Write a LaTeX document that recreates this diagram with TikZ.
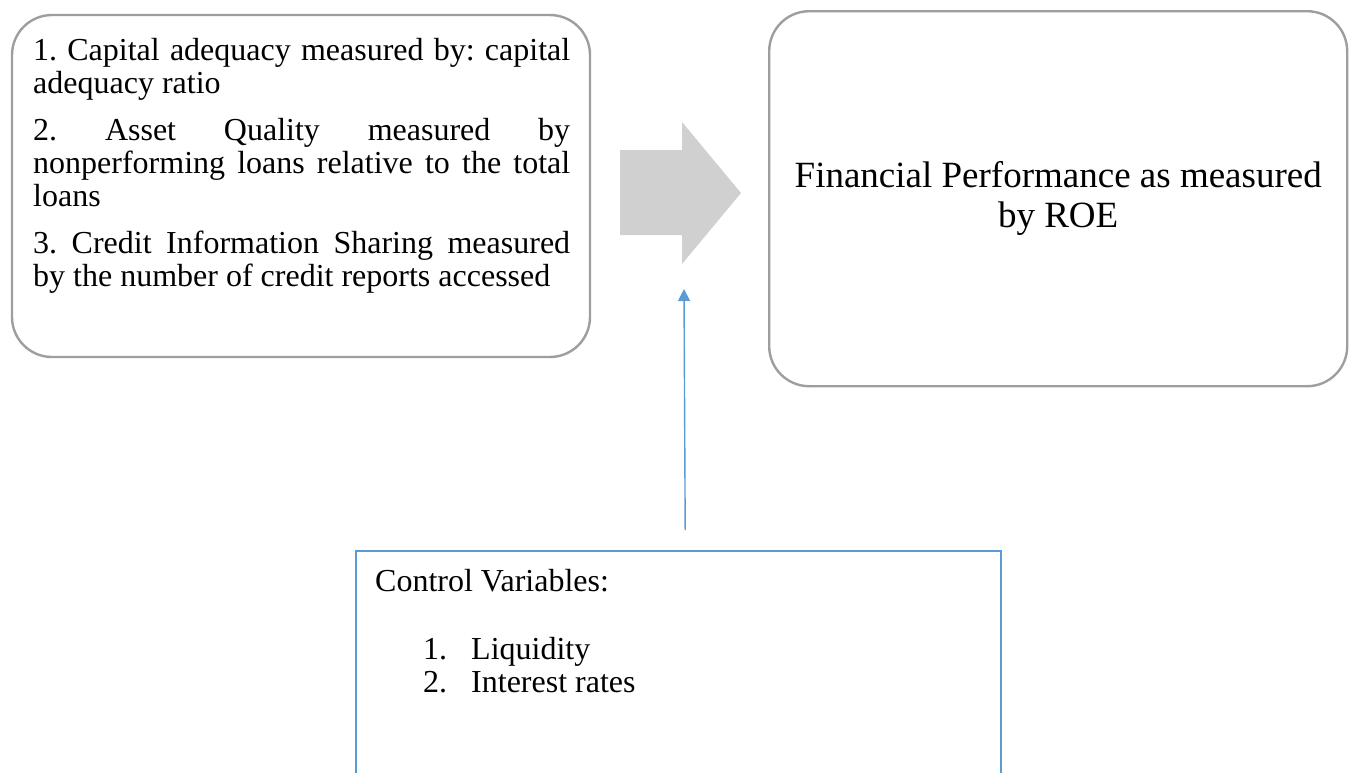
\documentclass[tikz,border=0pt]{standalone}
\usepackage{fontspec}
\setmainfont{Liberation Serif}
\usetikzlibrary{arrows.meta}
\definecolor{boxgray}{HTML}{9E9E9E}
\definecolor{arrowgray}{HTML}{D0D0D0}
\definecolor{ctrlblue}{HTML}{5B9BD5}
\frenchspacing
\begin{document}
\begin{tikzpicture}[x=1pt,y=-1pt,
  roundbox/.style={draw=boxgray,line width=2.4pt,rounded corners=40pt,fill=white},
  ctrlbox/.style={draw=ctrlblue,line width=2.4pt},
  ctrllink/.style={draw=ctrlblue,line width=1.4pt,-{Triangle[length=12pt,width=12pt]}},
  bigarrow/.style={fill=arrowgray,draw=none},
  bodytext/.style={font=\fontsize{32}{33}\selectfont,inner sep=0pt}]
\useasboundingbox (0,0) rectangle (1352,772);
\clip (0,0) rectangle (1352,772);

% input variables
\draw[roundbox] (12,15) rectangle (590,357);
\node[bodytext,anchor=north west,text width=537pt,align=justify] (inputs) at (33,38)
  {\hyphenpenalty=10000\setlength{\parskip}{14pt}%
   1. Capital adequacy measured by: capital\linebreak adequacy ratio\par
   2. Asset Quality measured by\linebreak nonperforming loans relative to the total\linebreak loans\par
   3. Credit Information Sharing measured\linebreak by the number of credit reports accessed\par};

% outcome
\node[roundbox,minimum width=578pt,minimum height=375pt,anchor=north west,
      font=\fontsize{37}{40}\selectfont,align=center] (outcome) at (768,10)
  {Financial Performance as measured\\ by ROE};

% block arrow from inputs to outcome
\fill[bigarrow] (620,150) -- (682,150) -- (682,122) -- (741,193)
  -- (682,264) -- (682,235) -- (620,235) -- cycle;

% control variables (box runs off the bottom edge)
\node[ctrlbox,minimum width=645pt,minimum height=260pt,anchor=north west] (ctrl) at (355,550) {};
\node[bodytext,anchor=base west] (ctrltitle) at (375,591) {Control Variables:};
\node[bodytext,anchor=base west] (ctrlone) at (423,659) {1.};
\node[bodytext,anchor=base west] (ctrloneb) at (471,659) {Liquidity};
\node[bodytext,anchor=base west] (ctrltwo) at (423,692) {2.};
\node[bodytext,anchor=base west] (ctrltwob) at (471,692) {Interest rates};

\coordinate (ctrltip) at (684,289);
\draw[ctrllink] ([xshift=6.5pt,yshift=20pt]ctrl.north) -- (ctrltip);
\end{tikzpicture}
\end{document}
